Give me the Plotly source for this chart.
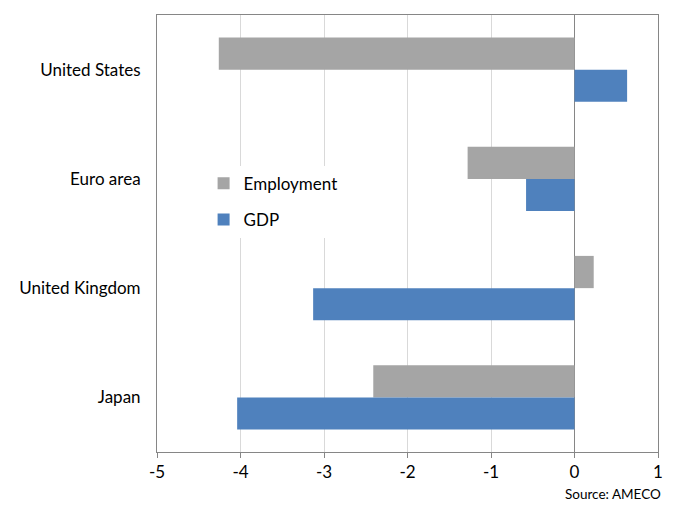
import plotly.graph_objects as go

# Change in GDP and employment by economy (%)
countries = ["United States", "Euro area", "United Kingdom", "Japan"]
employment = [-4.26, -1.28, 0.23, -2.41]
gdp = [0.63, -0.58, -3.13, -4.04]
x_ticks = [-5, -4, -3, -2, -1, 0, 1]

GREY = "#A5A5A5"
BLUE = "#4F81BD"
AXIS = "#868686"
FONT = "Lato, Open Sans, sans-serif"

fig = go.Figure()
fig.add_trace(go.Bar(y=countries, x=employment, orientation="h", name="Employment",
                     marker=dict(color=GREY, line=dict(width=0)), legendgroup="e"))
fig.add_trace(go.Bar(y=countries, x=gdp, orientation="h", name="GDP",
                     marker=dict(color=BLUE, line=dict(width=0)), legendgroup="g"))

fig.update_layout(
    width=676, height=507,
    margin=dict(l=157, r=18, t=15, b=55),
    paper_bgcolor="white", plot_bgcolor="white",
    barmode="group", bargap=0.41, bargroupgap=0,
    font=dict(family=FONT, size=17, color="#000000"),
    legend=dict(x=0.093, y=0.655, xanchor="left", yanchor="top",
                bgcolor="white", traceorder="grouped", tracegroupgap=11,
                font=dict(size=17), itemwidth=30),
    xaxis=dict(range=[-5, 1], tickvals=x_ticks, ticktext=[str(v) for v in x_ticks],
               ticks="outside", ticklen=5,
               tickcolor=AXIS, showline=True, linecolor=AXIS, mirror=True,
               showgrid=True, gridcolor="#D9D9D9", gridwidth=1,
               zeroline=True, zerolinecolor=AXIS, zerolinewidth=1),
    yaxis=dict(autorange="reversed", showline=True, linecolor=AXIS, mirror=True,
               ticks="", showgrid=False, ticklabelstandoff=12),
    # category-boundary tick marks along the zero line
    yaxis2=dict(overlaying="y", anchor="free", position=5 / 6, side="left",
                range=[3.5, -0.5], tickvals=[-0.5, 0.5, 1.5, 2.5, 3.5],
                ticks="outside", ticklen=5, tickcolor=AXIS,
                showticklabels=False, showline=False, showgrid=False, zeroline=False),
    annotations=[dict(text="Source: AMECO", x=1.01, y=-0.095, xref="paper", yref="paper",
                      xanchor="right", yanchor="middle", showarrow=False,
                      font=dict(size=13.5, family=FONT))],
)

fig.write_html("out.html")
